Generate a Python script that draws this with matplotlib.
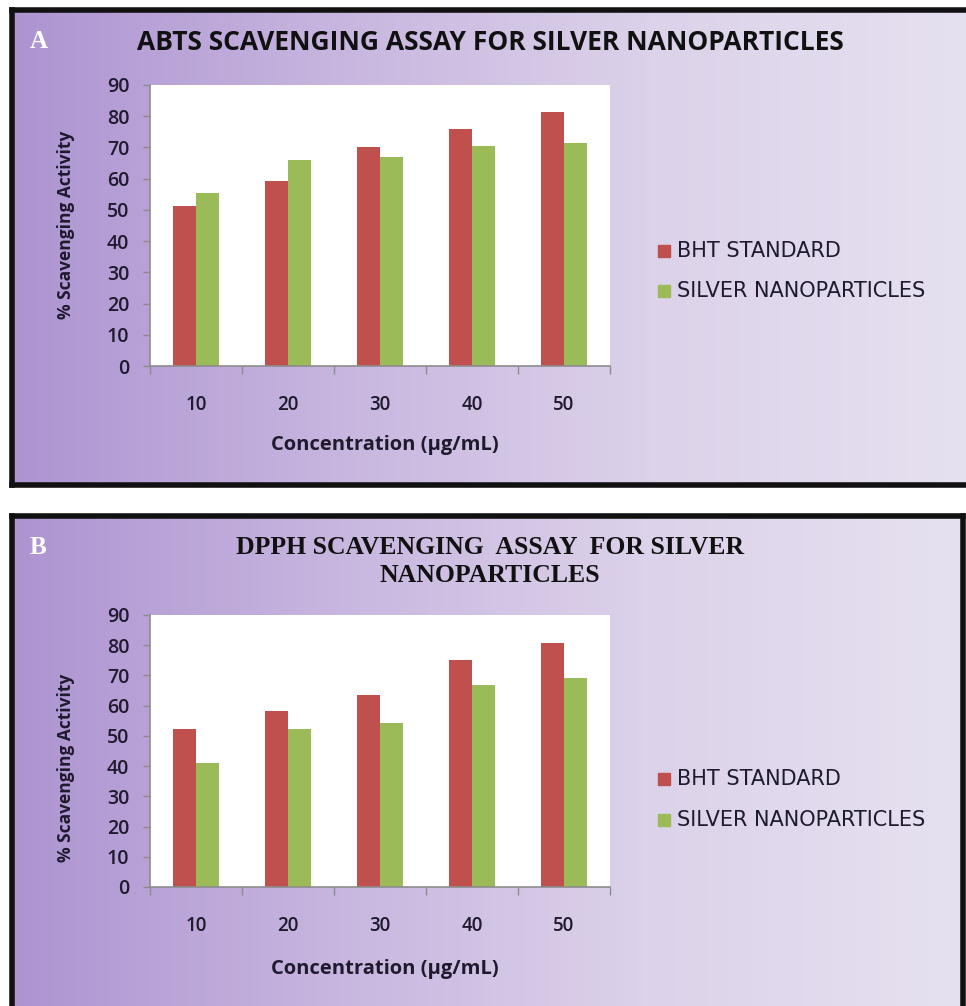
import numpy as np
import matplotlib.pyplot as plt
from matplotlib.colors import LinearSegmentedColormap
from matplotlib.patches import Rectangle

conc = ['10', '20', '30', '40', '50']
abts_bht = [51.2, 59.1, 70.2, 75.9, 81.2]
abts_silver = [55.3, 65.9, 67.0, 70.6, 71.3]
dpph_bht = [52.2, 58.4, 63.4, 75.2, 80.9]
dpph_silver = [41.0, 52.2, 54.4, 66.9, 69.1]
series_names = ['BHT STANDARD', 'SILVER NANOPARTICLES']

W, H = 966, 1006
fig = plt.figure(figsize=(W / 100, H / 100), dpi=100)
fig.patch.set_facecolor('white')

red = '#C0504D'
green = '#9BBB59'
text_col = '#1F1A2E'
bg_cmap = LinearSegmentedColormap.from_list('bg', ['#AD94D1', '#C7B5DF', '#DCD2EA', '#E6E1F0'])


def box(x0, y0, x1, y1):
    # pixel box (top-left origin) -> figure fraction rect
    return [x0 / W, 1 - y1 / H, (x1 - x0) / W, (y1 - y0) / H]


def panel(frame, plot, letter, title, title_y, title_font, bht, silver, leg_y, xlab_y, ylab_y):
    # gradient background inside a thick black frame
    bg = fig.add_axes(box(*frame))
    grad = np.linspace(0, 1, 256).reshape(1, -1)
    bg.imshow(grad, cmap=bg_cmap, aspect='auto', extent=[0, 1, 0, 1])
    bg.set_xlim(0, 1)
    bg.set_ylim(0, 1)
    bg.set_xticks([])
    bg.set_yticks([])
    for s in bg.spines.values():
        s.set_linewidth(4)
        s.set_color('#111111')

    fig.text(30 / W, 1 - title_y[0] / H, letter, color='white', fontsize=18,
             fontweight='bold', family='Liberation Serif', va='center')
    for ty, line in zip(title_y, title):
        fig.text(490 / W, 1 - ty / H, line, color='#111111', ha='center', va='center', **title_font)

    ax = fig.add_axes(box(*plot))
    ax.set_facecolor('white')
    x = np.arange(len(conc))
    w = 0.25
    ax.bar(x - w / 2, bht, w, color=red, label=series_names[0])
    ax.bar(x + w / 2, silver, w, color=green, label=series_names[1])
    ax.set_xlim(-0.5, len(conc) - 0.5)
    ax.set_ylim(0, 90)
    ax.set_yticks(np.arange(0, 91, 10))
    ax.set_xticks(np.arange(-0.5, len(conc)))
    ax.set_xticklabels([])
    for s in ['top', 'right']:
        ax.spines[s].set_visible(False)
    for s in ['left', 'bottom']:
        ax.spines[s].set_color('#8C8C8C')
        ax.spines[s].set_linewidth(1.2)
    ax.tick_params(axis='y', colors='#8C8C8C', length=5, width=1, labelcolor=text_col,
                   labelsize=14, pad=10)
    ax.tick_params(axis='x', colors='#8C8C8C', length=6, width=1)
    for lb in ax.get_yticklabels():
        lb.set_family('Open Sans')
        lb.set_fontweight('semibold')
    # category labels sit well below the axis
    for i, c in enumerate(conc):
        ax.annotate(c, (i, 0), xytext=(0, -28), textcoords='offset points', ha='center',
                    va='center', fontsize=13.5, color=text_col, family='Open Sans',
                    fontweight='semibold', annotation_clip=False)

    fig.text(385 / W, 1 - xlab_y / H, 'Concentration (µg/mL)', ha='center', va='center',
             fontsize=14.5, fontweight='bold', family='Open Sans', color=text_col)
    fig.text(66 / W, 1 - ylab_y / H, '% Scavenging Activity', ha='center', va='center',
             rotation=90, fontsize=12.5, fontweight='bold', family='Open Sans', color=text_col)

    for hy, col, name in zip(leg_y, [red, green], series_names):
        fig.patches.append(Rectangle((658 / W, 1 - (hy + 6) / H), 12 / W, 12 / H,
                                     transform=fig.transFigure, color=col))
        fig.text(677 / W, 1 - hy / H, name, va='center', fontsize=15, color=text_col,
                 family='DejaVu Sans')
    return ax


panel((12, 10, 975, 485), (150, 85, 610, 366), 'A',
      ['ABTS SCAVENGING ASSAY FOR SILVER NANOPARTICLES'], [42],
      dict(fontsize=19, fontweight='bold', family='Open Sans'),
      abts_bht, abts_silver, [251, 291], 445, 225)

panel((12, 516, 963, 1020), (150, 615, 610, 887), 'B',
      ['DPPH SCAVENGING  ASSAY  FOR SILVER', 'NANOPARTICLES'], [548, 576],
      dict(fontsize=18.5, fontweight='bold', family='Liberation Serif'),
      dpph_bht, dpph_silver, [779, 820], 969, 768)

fig.savefig('out.png', dpi=100, facecolor='white')
